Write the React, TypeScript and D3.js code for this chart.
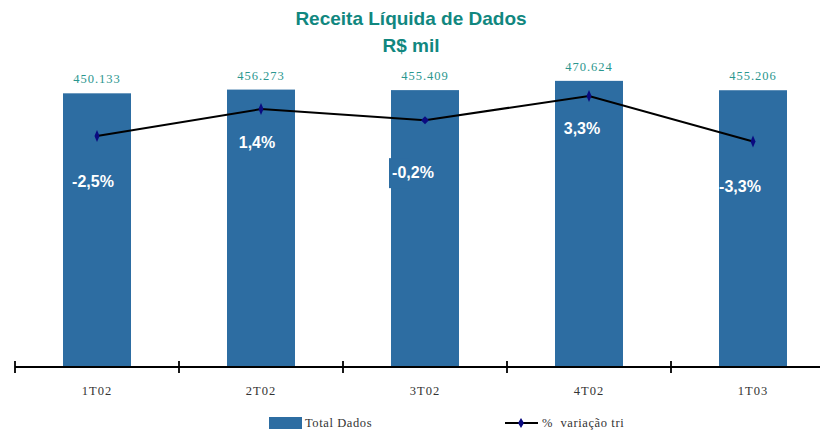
import * as d3 from "d3";

const quarters = ["1T02", "2T02", "3T02", "4T02", "1T03"];
const totalDados = [450.133, 456.273, 455.409, 470.624, 455.206];
const variacaoTri = [-2.5, 1.4, -0.2, 3.3, -3.3];
const valueLabels = ["450.133", "456.273", "455.409", "470.624", "455.206"];
const pctLabels = ["-2,5%", "1,4%", "-0,2%", "3,3%", "-3,3%"];

export default function App() {
  const width = 820;
  const height = 430;
  const baseY = 367;
  const left = 15;
  const band = 164;

  const x = d3.scaleBand(quarters, [left, left + band * quarters.length]).paddingInner(0).paddingOuter(0);
  const y = d3.scaleLinear([0, 500], [baseY, baseY - 304]);
  const y2 = d3.scaleLinear([-36, 10], [baseY, 49.8]);

  const barW = 68;
  const cx = (q: string) => (x(q) as number) + x.bandwidth() / 2;

  const line = d3.line<number>((_, i) => cx(quarters[i]), (d) => y2(d));

  // label offsets for the percent text inside bars
  const pctDy = [51, 39, 58, 38, 50];
  const pctDx = [-4, -4, -12, -7, -13];
  const teal = "#11877f";
  const barColor = "#2d6da2";
  const navy = "#0a0a80";

  const diamond = (px: number, py: number, rx = 2.5, ry = 6) =>
    `M${px},${py - ry}L${px + rx},${py}L${px},${py + ry}L${px - rx},${py}Z`;

  const ticks = d3.range(quarters.length + 1).map((i) => left + i * band);

  return (
    <svg width={width} height={height} style={{ position: "absolute", left: 0, top: 0, background: "white" }}>
      <text x={411} y={25} textAnchor="middle" fontFamily="Liberation Sans, Arial" fontWeight="bold" fontSize={19} fill={teal}>
        Receita Líquida de Dados
      </text>
      <text x={411} y={52} textAnchor="middle" fontFamily="Liberation Sans, Arial" fontWeight="bold" fontSize={19} fill={teal}>
        R$ mil
      </text>

      {quarters.map((q, i) => (
        <g key={q}>
          <rect x={cx(q) - barW / 2} y={y(totalDados[i])} width={barW} height={baseY - y(totalDados[i])} fill={barColor} />
          <text x={cx(q)} y={y(totalDados[i]) - 10} textAnchor="middle" fontFamily="Liberation Serif, serif" fontSize={12.5} letterSpacing={1} fill="#2a968e">
            {valueLabels[i]}
          </text>
        </g>
      ))}

      {/* background box behind the 3T02 label */}
      <rect x={cx(quarters[2]) - 36} y={y2(variacaoTri[2]) + 38} width={20} height={30} fill={barColor} />

      <path d={line(variacaoTri) as string} fill="none" stroke="black" strokeWidth={2} />
      {variacaoTri.map((v, i) => (
        <path key={i} d={diamond(cx(quarters[i]), y2(v), i === 2 ? 4 : 2.5, i === 2 ? 4 : 6)} fill={navy} />
      ))}

      {variacaoTri.map((v, i) => (
        <text key={i} x={cx(quarters[i]) + pctDx[i]} y={y2(v) + pctDy[i]} textAnchor="middle" fontFamily="Liberation Sans, Arial" fontWeight="bold" fontSize={16} fill="white">
          {pctLabels[i]}
        </text>
      ))}

      <line x1={left} x2={width} y1={baseY} y2={baseY} stroke="black" strokeWidth={1.8} />
      {ticks.map((t) => (
        <line key={t} x1={t} x2={t} y1={baseY - 6} y2={baseY + 6} stroke="black" strokeWidth={1.8} />
      ))}
      {quarters.map((q) => (
        <text key={q} x={cx(q)} y={395} textAnchor="middle" fontFamily="Liberation Serif, serif" fontSize={12.5} letterSpacing={1} fill="#333">
          {q}
        </text>
      ))}

      <rect x={269} y={417} width={33} height={12} fill={barColor} />
      <text x={305} y={427} fontFamily="Liberation Serif, serif" fontSize={12.5} letterSpacing={0.6} fill="#333">
        Total Dados
      </text>
      <line x1={505} x2={538} y1={423} y2={423} stroke="black" strokeWidth={1.8} />
      <path d={diamond(521, 423, 3, 5)} fill={navy} />
      <text x={542} y={427} fontFamily="Liberation Serif, serif" fontSize={12.5} letterSpacing={0.6} fill="#333" xmlSpace="preserve">
        %  variação tri
      </text>
    </svg>
  );
}
